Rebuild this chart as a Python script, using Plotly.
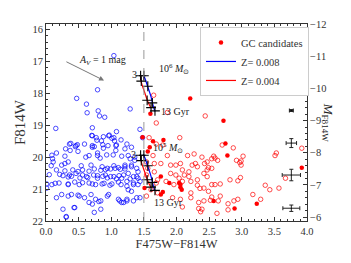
import plotly.graph_objects as go

# ---------------- data ----------------
blue_x = [1.04,0.79,0.47,0.62,0.63,0.80,0.82,0.90,1.29,0.15,0.71,1.08,0.70,0.77,0.78,0.88,0.97,1.01,1.05,1.15,1.48,
          0.38,0.48,0.71,0.74,0.87,1.08,0.85,0.45,0.59,0.88,0.95,1.07,0.30,0.37,0.49,0.16,0.09,0.61,0.66,0.79,0.83,
          0.93,1.03,1.16,1.26,1.36,0.34,0.24,0.08,0.16,0.29,0.54,0.69,0.86,0.94,1.04,1.11,1.21,1.31,1.39,0.21,0.36,
          0.46,0.56,0.64,0.73,0.79,0.91,0.99,1.08,1.19,1.29,1.39,1.44,0.09,0.20,0.34,0.44,0.51,0.66,0.76,0.86,0.98,
          1.15,1.24,1.34,0.24,0.34,0.49,0.59,0.69,0.76,0.81,0.96,1.13,1.19,1.24,1.34,1.44,0.43,0.74,0.84,0.31,
          1.24,1.21,1.31,1.29,1.36,1.21,1.31,1.41,1.26,1.34,1.41,1.24,1.34,1.41,1.26,1.31,1.39,1.24,1.44,
          0.01,0.10,0.05,0.71,0.96,1.04,1.07,0.36,0.46,0.71,0.79,0.29,0.29,0.11,
          0.41,0.49,0.56,0.66,0.74,0.84,0.91,0.99,1.06,1.14,1.21,
          0.26,0.34,0.39,0.52,0.62,0.79,0.87,0.94,1.04,1.12,1.16,
          0.01,0.14,0.34,0.56,0.71,0.89,1.01,1.11,
          0.16,0.39,0.51,0.66,0.84,0.94,1.11,1.16,0.26,0.44,0.71,0.31]
blue_y = [16.82,17.89,18.16,18.34,18.61,18.55,18.71,18.75,18.49,19.10,19.08,19.20,19.32,19.39,19.47,19.36,19.31,19.41,19.49,19.46,19.39,
          19.57,19.61,19.64,19.67,19.61,19.62,19.49,19.67,19.59,19.72,19.64,19.79,19.74,19.79,19.82,19.87,19.94,20.00,19.95,19.95,20.03,
          19.93,19.93,19.97,19.95,20.00,20.15,20.25,20.27,20.40,20.43,20.27,20.25,20.30,20.35,20.27,20.33,20.30,20.25,20.35,20.54,20.56,
          20.51,20.56,20.64,20.56,20.66,20.56,20.61,20.68,20.56,20.68,20.61,20.76,20.86,20.81,20.84,20.78,20.86,20.81,20.86,20.84,20.88,
          20.86,20.91,20.86,21.17,21.22,21.19,21.27,21.17,21.32,21.39,21.17,21.37,21.42,21.32,21.37,21.27,21.58,21.73,21.63,21.88,
          19.59,19.74,19.69,20.05,20.10,20.25,20.30,20.46,20.51,20.61,20.66,20.76,20.81,20.86,21.02,21.07,21.27,21.37,19.13,
          20.97,20.05,20.55,19.33,19.33,19.39,19.64,19.59,19.64,19.69,19.87,19.97,20.20,20.15,
          20.40,20.45,20.40,20.44,20.37,20.41,20.39,20.37,20.35,20.38,20.37,
          20.58,20.62,20.60,20.65,20.61,20.58,20.60,20.65,20.61,20.58,20.66,
          20.84,20.82,20.86,20.80,20.84,20.82,20.84,20.78,
          21.27,21.17,21.22,21.42,21.37,21.22,21.32,21.42,21.63,21.58,21.47,21.86]

red_open_x = [1.65,1.86,1.69,2.44,1.58,1.69,2.05,2.70,2.87,1.64,1.66,1.76,1.86,1.91,1.99,2.06,2.17,2.27,2.39,2.47,2.24,
              2.32,2.09,2.19,1.91,1.99,1.66,1.71,1.84,1.96,2.22,2.32,2.42,2.22,1.94,2.34,2.39,3.02,2.99,2.92,2.97,2.99,
              2.57,2.54,2.59,2.63,2.43,2.29,2.49,2.47,2.54,2.42,2.47,2.82,2.98,2.94,2.12,2.19,2.04,2.09,2.54,2.59,2.67,
              2.32,2.36,2.49,2.22,2.67,2.64,2.54,2.42,2.52,2.79,2.88,2.94,3.17,3.29,3.36,3.43,3.57,3.51,3.53,3.67,3.92,
              2.62,2.79,2.34,2.37,2.06,2.09,1.54,1.56,1.54,1.69,1.61,1.54,1.71,1.79]
red_open_y = [18.06,18.60,18.93,18.71,19.39,19.59,19.39,19.62,19.71,19.95,20.20,20.20,19.95,20.25,20.25,20.20,19.95,19.90,20.00,20.15,20.25,
              20.30,20.40,20.46,20.51,20.56,20.46,20.71,20.76,20.86,20.76,20.71,20.97,21.12,21.27,21.42,21.63,19.97,20.12,20.10,20.17,20.25,
              19.97,20.05,20.03,20.10,20.20,20.20,20.33,20.40,20.35,20.51,20.61,20.71,20.64,20.74,20.56,20.61,20.66,20.76,20.86,20.86,20.84,
              20.88,20.98,21.07,21.27,21.22,21.37,21.25,21.37,21.35,21.46,21.37,21.32,21.17,21.32,20.88,21.02,20.97,19.95,19.87,20.66,19.72,
              21.76,21.65,21.61,21.71,21.32,21.56,20.15,20.35,20.56,20.81,21.02,21.22,21.12,19.62]

red_fill_x = [2.44,2.21,2.72,1.60,2.75,2.78,1.80,1.59,1.56,1.76,1.89,2.06,1.76,1.79,1.51,2.08,2.04,2.06,2.57,2.89,3.23,3.92,1.48,1.64]
red_fill_y = [17.76,18.16,18.86,18.64,19.57,19.95,19.46,19.69,19.82,20.61,20.81,20.86,21.17,21.09,20.97,21.02,20.81,20.94,21.37,21.61,21.46,20.33,19.38,19.50]

# evolutionary tracks (3 -> 13 Gyr), two cluster masses
z008_hi_x = [1.49,1.52,1.56,1.61,1.64,1.67]
z008_hi_y = [17.42,17.55,17.80,18.11,18.37,18.57]
z004_hi_x = [1.45,1.46,1.51,1.56,1.61]
z004_hi_y = [17.45,17.65,17.96,18.26,18.47]
z008_lo_x = [1.49,1.52,1.56,1.61,1.64,1.67]
z008_lo_y = [19.91,20.04,20.29,20.60,20.86,21.06]
z004_lo_x = [1.45,1.46,1.51,1.56,1.61]
z004_lo_y = [19.94,20.14,20.45,20.75,20.96]
age_x = [1.50,1.56,1.63,1.67,1.45,1.46,1.55,1.61, 1.50,1.56,1.63,1.67,1.45,1.46,1.55,1.61]
age_y = [17.45,17.78,18.30,18.55,17.45,17.62,18.22,18.45, 19.94,20.27,20.79,21.04,19.94,20.11,20.71,20.94]

# typical photometric errors
err_x = [3.76,3.76,3.76,3.76]
err_y = [18.54,19.56,20.56,21.60]
err_dx = [0.03,0.08,0.14,0.13]
err_dy = [0.03,0.14,0.18,0.10]

dist_mod = 27.83
font = "Liberation Serif"
BLUE = "#0000ff"
RED = "#ff0000"
INK = "#333333"

fig = go.Figure()
fig.add_trace(go.Scatter(x=blue_x, y=blue_y, mode="markers", showlegend=False,
                         marker=dict(symbol="circle-open", size=4.5, color=BLUE, line=dict(width=0.7))))
fig.add_trace(go.Scatter(x=red_open_x, y=red_open_y, mode="markers", showlegend=False,
                         marker=dict(symbol="circle-open", size=4.5, color=RED, line=dict(width=0.7))))
fig.add_trace(go.Scatter(x=red_fill_x, y=red_fill_y, mode="markers", name="GC candidates",
                         marker=dict(symbol="circle", size=4.5, color=RED)))
fig.add_trace(go.Scatter(x=z008_hi_x, y=z008_hi_y, mode="lines", name="Z= 0.008",
                         line=dict(color=BLUE, width=1.2, shape="spline")))
fig.add_trace(go.Scatter(x=z004_hi_x, y=z004_hi_y, mode="lines", name="Z= 0.004",
                         line=dict(color=RED, width=1.2, shape="spline")))
fig.add_trace(go.Scatter(x=z008_lo_x, y=z008_lo_y, mode="lines", showlegend=False,
                         line=dict(color=BLUE, width=1.2, shape="spline")))
fig.add_trace(go.Scatter(x=z004_lo_x, y=z004_lo_y, mode="lines", showlegend=False,
                         line=dict(color=RED, width=1.2, shape="spline")))
fig.add_trace(go.Scatter(x=age_x, y=age_y, mode="markers", showlegend=False,
                         marker=dict(symbol="cross-thin", size=7, color="black",
                                     line=dict(width=1.1, color="black"))))
fig.add_trace(go.Scatter(x=err_x, y=err_y, mode="markers", showlegend=False,
                         marker=dict(size=1, color="black"),
                         error_x=dict(type="data", array=err_dx, color="#222", thickness=1, width=2),
                         error_y=dict(type="data", array=err_dy, color="#222", thickness=1, width=2)))
# secondary axis anchor trace (absolute magnitude scale)
fig.add_trace(go.Scatter(x=[None], y=[None], yaxis="y2", showlegend=False, hoverinfo="skip"))

fig.add_vline(x=1.5, line=dict(color="#999999", width=1, dash="dash"))

ann_font = dict(family=font, size=10, color="#222")
fig.add_annotation(x=0.89, y=17.6, ax=0.29, ay=16.99, axref="x", ayref="y", xref="x", yref="y",
                   text="", showarrow=True, arrowhead=2, arrowsize=1, arrowwidth=1, arrowcolor="#777")
fig.add_annotation(x=0.87, y=16.98, text="<i>A</i><sub><i>V</i></sub> = 1 mag", showarrow=False, font=ann_font)
fig.add_annotation(x=1.42, y=17.42, text="3", showarrow=False, font=ann_font, xanchor="right")
fig.add_annotation(x=1.41, y=19.92, text="3", showarrow=False, font=ann_font, xanchor="right")
fig.add_annotation(x=1.70, y=17.25, text="10<sup>6</sup> <i>M</i><sub>⊙</sub>", showarrow=False,
                   font=ann_font, xanchor="left")
fig.add_annotation(x=1.61, y=19.70, text="10<sup>5</sup> <i>M</i><sub>⊙</sub>", showarrow=False,
                   font=ann_font, xanchor="left")
fig.add_annotation(x=1.73, y=18.57, text="13 Gyr", showarrow=False, font=ann_font, xanchor="left")
fig.add_annotation(x=1.63, y=21.42, text="13 Gyr", showarrow=False, font=ann_font, xanchor="left")
fig.add_annotation(x=1.12, y=0.5, xref="paper", yref="paper", text="<i>M</i><sub>F814W</sub>",
                   textangle=90, showarrow=False, font=dict(family=font, size=13, color="#222"))

axis_common = dict(ticks="inside", ticklen=4, tickwidth=0.8, tickcolor=INK, showline=True,
                   linecolor=INK, linewidth=1, showgrid=False, zeroline=False,
                   tickfont=dict(family=font, size=10.5, color=INK))
minor_common = dict(ticks="inside", ticklen=2, tickcolor=INK, tickwidth=0.7)
# the page body adds an 8px offset, so the margins are shifted to keep the plot area in place
fig.update_layout(
    width=351, height=263,
    margin=dict(l=33, r=52, t=11, b=50),
    paper_bgcolor="white", plot_bgcolor="white",
    font=dict(family=font, size=11, color=INK),
    xaxis=dict(range=[0, 4], dtick=0.5, tick0=0, tickformat=".1f", mirror="ticks",
               minor=dict(dtick=0.1, **minor_common),
               title=dict(text="F475W−F814W", font=dict(family=font, size=12.5, color=INK), standoff=3),
               **axis_common),
    yaxis=dict(range=[22, 15.83], dtick=1, tick0=16, mirror=True,
               minor=dict(dtick=0.2, **minor_common),
               title=dict(text="F814W", font=dict(family=font, size=15, color=INK), standoff=3),
               **axis_common),
    yaxis2=dict(overlaying="y", side="right", range=[22 - dist_mod - 0.05, -12], dtick=1, tick0=-12,
                minor=dict(dtick=0.2, **minor_common),
                **axis_common),
    legend=dict(x=0.59, y=0.985, xanchor="left", yanchor="top", bgcolor="white",
                bordercolor="#cccccc", borderwidth=1, font=dict(family=font, size=10.5, color=INK),
                itemwidth=30, tracegroupgap=0),
)
fig.write_html("out.html")
